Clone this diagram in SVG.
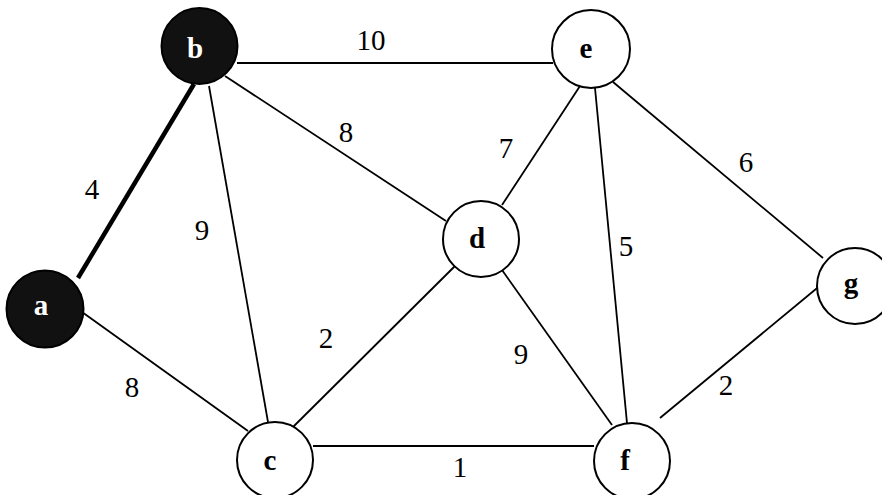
<svg xmlns="http://www.w3.org/2000/svg" width="882" height="495" viewBox="0 0 882 495">
  <style>
    .edge { stroke: #000; stroke-width: 1.8; fill: none; }
    .edge.tree { stroke-width: 4.5; }
    .node circle { fill: #fff; stroke: #000; stroke-width: 2; }
    .node.visited circle { fill: #111; }
    .node text { font-weight: bold; font-size: 29px; text-anchor: middle; fill: #000; }
    .node.visited text { fill: #fff; }
    .weight { font-size: 29px; text-anchor: middle; fill: #000; }
  </style>
  <rect width="882" height="495" fill="#fff"/>

  <!-- edges -->
  <g id="edges">
    <line class="edge tree" x1="78" y1="278" x2="194" y2="84"/>
    <line class="edge" x1="237" y1="63" x2="553" y2="63"/>
    <line class="edge" x1="209" y1="86" x2="268" y2="422"/>
    <line class="edge" x1="225" y1="76" x2="446" y2="221"/>
    <line class="edge" x1="82" y1="312" x2="248" y2="431"/>
    <line class="edge" x1="293" y1="427" x2="455" y2="266"/>
    <line class="edge" x1="313" y1="446" x2="594" y2="446"/>
    <line class="edge" x1="502" y1="205" x2="580" y2="86"/>
    <line class="edge" x1="502" y1="270" x2="612" y2="425"/>
    <line class="edge" x1="595" y1="88" x2="627" y2="423"/>
    <line class="edge" x1="613" y1="82" x2="823" y2="258"/>
    <line class="edge" x1="660" y1="418" x2="822" y2="284"/>
  </g>

  <!-- edge weights -->
  <g id="weights" font-family="'Liberation Serif', 'DejaVu Serif', serif">
    <text class="weight" x="371" y="50">10</text>
    <text class="weight" x="92" y="199">4</text>
    <text class="weight" x="202" y="240">9</text>
    <text class="weight" x="346" y="142">8</text>
    <text class="weight" x="506" y="158">7</text>
    <text class="weight" x="746" y="172">6</text>
    <text class="weight" x="626" y="256">5</text>
    <text class="weight" x="326" y="348">2</text>
    <text class="weight" x="521" y="364">9</text>
    <text class="weight" x="726" y="395">2</text>
    <text class="weight" x="132" y="397">8</text>
    <text class="weight" x="460" y="477">1</text>
  </g>

  <!-- vertices -->
  <g id="nodes" font-family="'Liberation Serif', 'DejaVu Serif', serif">
    <g id="node-a" class="node visited">
      <circle cx="45" cy="309" r="38.5"/>
      <text x="41" y="315">a</text>
    </g>
    <g id="node-b" class="node visited">
      <circle cx="199.5" cy="46" r="38"/>
      <text x="195" y="58">b</text>
    </g>
    <g id="node-c" class="node">
      <circle cx="275" cy="460" r="38"/>
      <text x="270" y="470">c</text>
    </g>
    <g id="node-d" class="node">
      <circle cx="481" cy="239" r="38"/>
      <text x="477" y="248">d</text>
    </g>
    <g id="node-e" class="node">
      <circle cx="591" cy="49" r="39"/>
      <text x="586" y="58">e</text>
    </g>
    <g id="node-f" class="node">
      <circle cx="632" cy="461" r="38"/>
      <text x="625" y="470">f</text>
    </g>
    <g id="node-g" class="node">
      <circle cx="855" cy="286" r="38"/>
      <text x="851" y="293">g</text>
    </g>
  </g>
</svg>
